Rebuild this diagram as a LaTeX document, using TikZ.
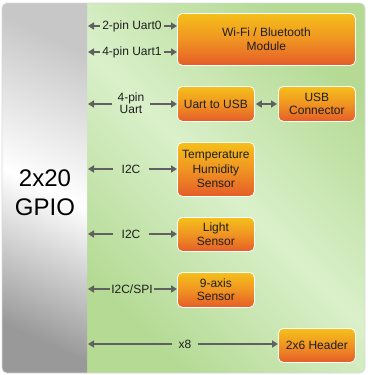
\documentclass[tikz,border=0pt]{standalone}
\usepackage{fontspec}
\setmainfont{Liberation Sans}
\usetikzlibrary{arrows.meta,calc}
\definecolor{boxtop}{RGB}{245,192,26}
\definecolor{boxmid}{RGB}{240,148,34}
\definecolor{boxbot}{RGB}{229,92,40}
\definecolor{arrgray}{RGB}{96,96,96}
\definecolor{txt}{RGB}{30,30,30}
\definecolor{gdark}{RGB}{180,218,148}
\definecolor{glight}{RGB}{218,240,202}
\tikzset{
  blk/.style={draw=white, line width=0.8pt, rounded corners=5pt,
    top color=boxtop, bottom color=boxbot, middle color=boxmid,
    text=txt, font=\fontsize{12}{13.5}\selectfont, align=center,
    inner sep=0pt, anchor=north west},
  lab/.style={text=txt, font=\fontsize{12}{12.5}\selectfont, align=center, inner ysep=0pt},
  arr/.style={draw=arrgray, line width=2pt, -{Triangle[length=6pt,width=7pt]}},
}
\begin{document}
\begin{tikzpicture}[x=1pt,y=-1pt]
\useasboundingbox (0,0) rectangle (367,375);
% frame
\begin{scope}
\clip[rounded corners=5pt] (2,3) rectangle (365,373);
\shade[shading=axis, left color=gdark, right color=gdark, middle color=glight, shading angle=135] (87,3) rectangle (365,373);
\shade[top color=black!22, bottom color=black!40, middle color=white, shading angle=-25] (2,3) rectangle (87,373);
\end{scope}
\draw[white!85!black, line width=0.6pt, rounded corners=5pt] (2,3) rectangle (365,373);
\node[text=black, font=\fontsize{24}{29}\selectfont, align=center] (gpio) at (45,193) {2x20\\GPIO};
% boxes
\node[blk, minimum width=178pt, minimum height=52pt] (wifi) at (177,13) {Wi-Fi / Bluetooth\\Module};
\node[blk, minimum width=77pt, minimum height=35pt] (u2u) at (177,86) {Uart to USB};
\node[blk, minimum width=77pt, minimum height=35pt] (usbc) at (278,86) {USB\\Connector};
\node[blk, minimum width=77pt, minimum height=54pt, font=\fontsize{12}{14.5}\selectfont] (temp) at (177,142) {Temperature\\Humidity\\Sensor};
\node[blk, minimum width=77pt, minimum height=34pt] (light) at (177,217) {Light\\Sensor};
\node[blk, minimum width=77pt, minimum height=35pt] (nine) at (177,272) {9-axis\\Sensor};
\node[blk, minimum width=77pt, minimum height=34pt] (hdr) at (278,328) {2x6 Header};
% gpio edge coordinates
\coordinate (g1) at (88,26);
\coordinate (g2) at (88,52);
\coordinate (g3) at (88,104);
\coordinate (g4) at (88,169);
\coordinate (g5) at (88,234);
\coordinate (g6) at (88,289);
\coordinate (g7) at (88,344);
% labels
\node[lab, inner xsep=2pt] (l1) at (132,26) {2-pin Uart0};
\node[lab, inner xsep=2pt] (l2) at (132,52) {4-pin Uart1};
\node[lab, inner xsep=5pt] (l3) at (131,103) {4-pin\\Uart};
\node[lab, inner xsep=8pt] (l4) at (131,169) {I2C};
\node[lab, inner xsep=8pt] (l5) at (131,234) {I2C};
\node[lab, inner xsep=1pt] (l6) at (132,289) {I2C/SPI};
\node[lab, inner xsep=6pt] (l7) at (185,344) {x8};
% arrows
\foreach \i in {1,...,7} {\draw[arr] (l\i.west |- g\i) -- (g\i);}
\draw[arr] (l1.east) -- (l1.east -| wifi.west);
\draw[arr] (l2.east) -- (l2.east -| wifi.west);
\draw[arr] (l3.east |- g3) -- (g3 -| u2u.west);
\draw[arr] (l4.east) -- (l4.east -| temp.west);
\draw[arr] (l5.east) -- (l5.east -| light.west);
\draw[arr] (l6.east) -- (l6.east -| nine.west);
\draw[arr] (l7.east) -- (l7.east -| hdr.west);
\draw[arr, {Triangle[length=6pt,width=7pt]}-{Triangle[length=6pt,width=7pt]}, shorten <=1pt, shorten >=1pt] (g3 -| u2u.east) -- (g3 -| usbc.west);
\end{tikzpicture}
\end{document}
